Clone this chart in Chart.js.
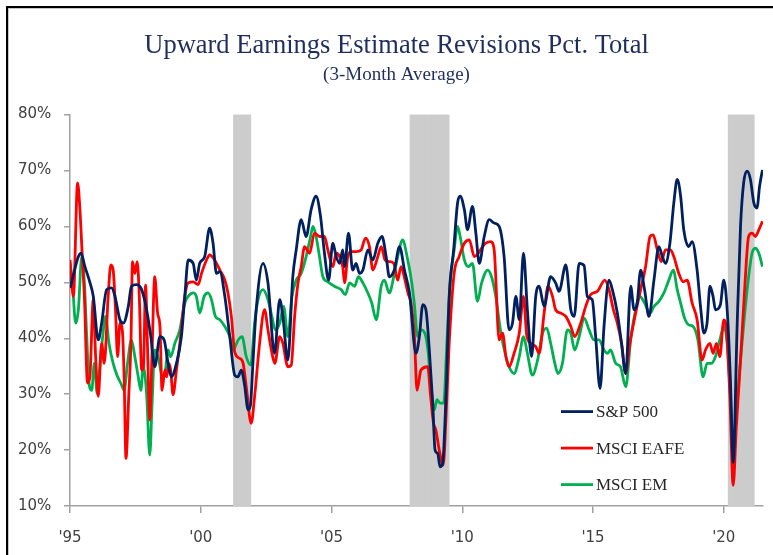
<!DOCTYPE html>
<html>
<head>
<meta charset="utf-8">
<script src="https://cdn.jsdelivr.net/npm/chart.js@4.4.1/dist/chart.umd.min.js"></script>
<style>
html,body{margin:0;padding:0;background:#fff;overflow:hidden;}
#wrap{position:relative;width:773px;height:555px;overflow:hidden;background:#fff;}
#c{position:absolute;left:0;top:0;}
#frame{position:absolute;left:6px;top:6px;width:800px;height:600px;border-top:2px solid #000;border-left:2px solid #000;box-shadow:inset 1px 1px 0 #c8c8c8;pointer-events:none;}
</style>
</head>
<body>
<div id="wrap"><canvas id="c" width="773" height="555"></canvas><div id="frame"></div></div>
<script>
// ---- Data (decimal years, percent) ----
const spYears = [1995.00,1995.42,1995.57,1995.76,1995.89,1996.08,1996.21,1996.40,1996.59,1996.72,1996.91,1997.04,1997.23,1997.35,1997.54,1997.74,1997.93,1998.09,1998.24,1998.44,1998.60,1998.75,1998.88,1999.07,1999.26,1999.39,1999.52,1999.71,1999.83,1999.96,2000.15,2000.34,2000.47,2000.60,2000.73,2000.92,2001.11,2001.30,2001.42,2001.55,2001.68,2001.81,2001.90,2002.00,2002.12,2002.38,2002.57,2002.82,2003.02,2003.14,2003.33,2003.52,2003.65,2003.84,2004.03,2004.22,2004.41,2004.58,2004.73,2004.89,2005.05,2005.18,2005.31,2005.43,2005.50,2005.65,2005.81,2005.94,2006.07,2006.20,2006.39,2006.58,2006.77,2006.93,2007.09,2007.21,2007.40,2007.60,2007.79,2007.98,2008.23,2008.36,2008.49,2008.61,2008.74,2008.87,2008.96,2009.06,2009.15,2009.25,2009.38,2009.50,2009.67,2009.82,2009.92,2010.08,2010.20,2010.39,2010.52,2010.65,2010.84,2011.03,2011.22,2011.41,2011.60,2011.79,2011.92,2012.05,2012.18,2012.34,2012.49,2012.65,2012.81,2012.94,2013.13,2013.38,2013.57,2013.70,2013.96,2014.15,2014.28,2014.47,2014.66,2014.78,2014.97,2015.10,2015.27,2015.42,2015.61,2015.74,2015.93,2016.09,2016.25,2016.44,2016.57,2016.69,2016.82,2016.97,2017.14,2017.33,2017.52,2017.65,2017.77,2017.94,2018.09,2018.22,2018.35,2018.47,2018.66,2018.79,2018.98,2019.11,2019.24,2019.36,2019.47,2019.59,2019.68,2019.87,2020.00,2020.13,2020.25,2020.36,2020.51,2020.64,2020.76,2020.89,2021.02,2021.15,2021.27,2021.37,2021.48];
const spValues = [49.0,55.2,52.8,50.0,47.5,39.7,42.7,48.7,49.0,47.5,43.3,42.7,45.7,49.3,49.6,48.7,45.1,40.3,34.9,40.3,39.7,35.5,33.1,35.5,40.3,47.5,54.0,53.4,50.4,53.4,54.6,59.7,57.0,51.6,51.9,47.5,40.3,33.4,33.1,34.3,31.5,27.2,28.0,36.0,45.1,53.4,49.9,37.3,46.9,43.9,36.1,51.0,55.8,61.2,58.2,63.0,65.4,61.8,55.2,50.4,57.0,54.6,53.4,55.8,52.8,58.8,52.2,53.4,51.6,52.2,55.8,54.0,57.0,58.2,54.6,51.0,52.2,56.4,52.2,48.1,37.3,40.3,46.0,45.1,37.9,28.4,20.0,19.4,17.0,17.6,30.1,47.5,55.8,64.2,65.4,63.0,59.4,63.6,58.8,53.4,58.2,61.2,60.6,60.0,54.6,41.5,42.7,47.5,43.3,55.2,45.1,36.7,47.5,49.3,45.7,51.0,49.9,48.4,53.1,45.1,43.9,53.4,53.0,47.5,46.9,40.3,31.0,42.1,50.4,48.7,44.5,39.1,33.7,49.3,45.1,46.3,52.2,48.7,43.9,50.4,56.4,54.6,53.4,57.0,64.2,68.4,65.4,59.4,56.4,57.3,52.2,45.7,40.9,42.7,49.3,47.5,45.1,46.0,50.4,45.1,33.1,17.8,42.1,60.0,67.8,69.9,68.4,64.2,63.3,67.2,70.1];

const eafeYears = [1995.00,1995.13,1995.29,1995.38,1995.47,1995.55,1995.67,1995.76,1995.89,1995.98,1996.08,1996.21,1996.31,1996.46,1996.56,1996.65,1996.74,1996.82,1996.91,1997.00,1997.07,1997.14,1997.25,1997.33,1997.39,1997.48,1997.57,1997.65,1997.74,1997.81,1997.89,1997.96,1998.05,1998.14,1998.24,1998.35,1998.44,1998.52,1998.63,1998.70,1998.78,1998.85,1998.94,1999.07,1999.20,1999.39,1999.52,1999.71,1999.90,2000.03,2000.22,2000.34,2000.53,2000.73,2000.92,2001.04,2001.17,2001.30,2001.49,2001.62,2001.74,2001.93,2002.06,2002.25,2002.44,2002.57,2002.70,2002.83,2003.02,2003.14,2003.33,2003.46,2003.59,2003.72,2003.84,2003.97,2004.16,2004.35,2004.54,2004.73,2004.86,2005.05,2005.18,2005.31,2005.43,2005.50,2005.62,2005.75,2005.94,2006.13,2006.30,2006.45,2006.58,2006.77,2006.90,2007.05,2007.21,2007.38,2007.53,2007.66,2007.81,2007.93,2008.04,2008.17,2008.27,2008.42,2008.68,2008.78,2008.90,2008.99,2009.12,2009.27,2009.38,2009.50,2009.69,2009.88,2010.08,2010.27,2010.46,2010.61,2010.78,2010.90,2011.09,2011.22,2011.41,2011.54,2011.67,2011.79,2011.98,2012.18,2012.34,2012.47,2012.62,2012.81,2012.94,2013.13,2013.28,2013.45,2013.57,2013.76,2013.96,2014.15,2014.30,2014.53,2014.72,2014.91,2015.17,2015.45,2015.61,2015.78,2015.93,2016.09,2016.25,2016.41,2016.63,2016.82,2017.01,2017.18,2017.30,2017.46,2017.61,2017.77,2017.96,2018.09,2018.28,2018.45,2018.60,2018.79,2018.98,2019.17,2019.30,2019.47,2019.59,2019.72,2019.85,2020.00,2020.10,2020.23,2020.36,2020.48,2020.64,2020.79,2020.95,2021.08,2021.21,2021.34,2021.48];
const eafeValues = [54.0,47.5,67.8,63.0,54.6,47.5,32.0,33.1,46.9,36.7,29.6,39.1,35.5,47.5,53.1,52.2,45.1,36.7,42.7,41.5,33.1,18.5,30.1,39.1,53.7,51.6,53.7,47.5,34.3,35.0,49.5,39.1,25.4,37.9,51.0,44.5,42.1,30.7,34.3,33.1,35.5,34.3,29.9,34.3,39.1,47.5,49.9,50.1,49.6,51.6,54.0,54.9,54.0,52.2,50.4,48.1,43.9,37.5,36.4,35.5,31.3,24.8,29.6,39.1,45.1,41.5,37.9,35.5,40.3,39.1,34.9,35.2,43.9,49.9,52.8,56.4,55.2,58.8,58.2,58.2,55.8,52.8,55.2,54.6,52.8,49.9,54.6,55.5,55.5,55.8,57.9,56.4,52.2,54.6,56.4,54.0,53.7,53.4,50.4,52.8,50.4,48.0,46.3,40.3,30.7,34.3,34.9,30.1,24.8,23.6,20.0,17.3,26.0,39.1,51.6,54.6,57.0,57.6,54.6,55.2,56.4,57.0,57.3,55.8,39.7,40.9,36.7,34.9,37.3,40.9,47.5,40.3,39.1,38.5,37.3,44.5,49.3,47.5,45.1,44.5,43.9,42.1,40.3,42.7,45.7,47.8,48.4,50.4,48.7,45.1,42.7,39.1,33.7,39.1,44.5,48.7,52.8,58.2,58.5,55.8,53.7,55.8,55.8,54.6,51.6,50.1,50.4,46.3,43.3,36.1,37.9,39.1,37.3,39.1,36.7,43.3,41.5,30.1,13.7,24.2,36.1,48.1,58.2,58.8,58.2,59.4,60.9];

const emYears = [1995.00,1995.09,1995.22,1995.32,1995.45,1995.55,1995.64,1995.73,1995.83,1995.93,1996.04,1996.15,1996.25,1996.36,1996.49,1996.65,1996.82,1996.95,1997.07,1997.20,1997.35,1997.48,1997.61,1997.71,1997.80,1997.93,1998.05,1998.14,1998.24,1998.40,1998.52,1998.63,1998.75,1998.85,1999.01,1999.20,1999.39,1999.52,1999.71,1999.83,1999.96,2000.13,2000.28,2000.41,2000.56,2000.73,2000.92,2001.11,2001.24,2001.43,2001.58,2001.74,2001.91,2002.06,2002.19,2002.38,2002.57,2002.72,2002.85,2003.02,2003.17,2003.33,2003.49,2003.65,2003.84,2004.03,2004.20,2004.29,2004.41,2004.54,2004.67,2004.86,2005.11,2005.37,2005.53,2005.69,2005.88,2006.03,2006.20,2006.39,2006.54,2006.71,2006.90,2007.02,2007.21,2007.38,2007.53,2007.72,2007.89,2008.07,2008.17,2008.29,2008.42,2008.57,2008.70,2008.80,2008.93,2009.03,2009.16,2009.29,2009.41,2009.54,2009.69,2009.82,2009.92,2010.08,2010.23,2010.39,2010.58,2010.74,2010.97,2011.12,2011.28,2011.48,2011.67,2011.79,2011.98,2012.18,2012.34,2012.49,2012.68,2012.88,2013.07,2013.23,2013.38,2013.54,2013.66,2013.83,2014.02,2014.15,2014.30,2014.47,2014.66,2014.85,2015.04,2015.23,2015.42,2015.55,2015.67,2015.87,2016.05,2016.25,2016.44,2016.63,2016.79,2016.97,2017.18,2017.33,2017.52,2017.71,2017.90,2018.07,2018.22,2018.35,2018.50,2018.66,2018.83,2019.01,2019.21,2019.36,2019.52,2019.68,2019.85,2020.00,2020.13,2020.25,2020.38,2020.51,2020.64,2020.79,2020.95,2021.08,2021.21,2021.34,2021.48];
const emValues = [53.4,49.9,42.7,45.1,54.6,49.9,40.3,31.9,30.7,35.5,30.1,35.5,40.3,43.9,39.1,35.5,33.1,31.9,30.7,35.5,39.7,36.7,33.1,30.7,34.9,30.0,19.1,28.4,37.9,36.1,33.1,33.7,37.9,36.7,39.1,41.5,46.3,47.5,48.1,47.5,44.5,47.5,48.1,46.9,43.9,43.3,42.1,40.3,37.9,39.7,40.3,36.7,35.2,42.7,46.9,48.7,46.9,43.9,41.5,42.7,45.7,40.3,47.5,50.4,51.6,54.6,58.2,60.0,58.2,54.6,51.0,50.1,49.3,48.7,47.8,49.9,49.3,51.0,49.9,48.1,46.3,43.3,49.3,50.4,48.1,51.0,54.6,57.6,54.6,49.9,46.0,40.3,41.5,40.9,37.3,31.3,27.2,29.0,28.4,28.4,39.1,49.9,55.8,60.0,58.2,54.0,52.8,53.4,46.6,49.9,52.2,51.0,47.5,40.9,36.7,34.9,33.7,36.7,40.3,37.3,33.4,36.1,40.9,41.8,39.1,35.5,33.7,35.5,41.5,40.9,37.9,40.3,43.6,41.5,39.7,39.7,37.9,37.3,37.9,35.5,34.9,31.3,39.7,45.1,47.5,46.3,44.5,45.7,46.6,48.1,50.4,52.2,48.7,46.3,43.6,42.4,42.1,39.7,33.1,35.5,35.5,36.7,39.7,42.1,39.1,30.1,20.6,28.4,36.1,43.9,51.0,55.2,56.1,55.2,52.8];

// Recessions (first and last shaded month)
const recessions = [["2001-04","2001-11"],["2008-01","2009-06"],["2020-03","2021-02"]];

// Axis ticks
const yTicks = [10,20,30,40,50,60,70,80];
const xTickYears = [1995,2000,2005,2010,2015,2020];
const xTickLabels = ["'95","'00","'05","'10","'15","'20"];
const seriesLabels = ["S&P 500","MSCI EAFE","MSCI EM"];

// ---- Build ----
const toXY = (xs, ys) => xs.map((x, i) => ({x: x, y: ys[i]}));
const recessionBars = [];
recessions.forEach(([s, e]) => {
  let [y, m] = s.split('-').map(Number);
  const [ey, em] = e.split('-').map(Number);
  while (y < ey || (y === ey && m <= em)) {
    recessionBars.push({x: y + (m - 0.5) / 12, y: [yTicks[0], yTicks[yTicks.length - 1]]});
    m++; if (m > 12) { m = 1; y++; }
  }
});

const colors = ['#002060', '#ff0000', '#00b050'];
const lineDs = (label, data, color, order) => ({
  type: 'line', label, data, borderColor: color, backgroundColor: color,
  borderWidth: 2.8, pointRadius: 0, cubicInterpolationMode: 'monotone', order
});

const insideLegend = {
  id: 'insideLegend',
  afterDatasetsDraw(chart) {
    const ctx = chart.ctx, a = chart.chartArea;
    const lx = a.left + 491, ly = a.top + 297, dy = 36.5;
    ctx.save();
    ctx.font = '17px "Liberation Serif"';
    ctx.textBaseline = 'middle';
    seriesLabels.forEach((t, i) => {
      const y = ly + i * dy;
      ctx.strokeStyle = colors[i];
      ctx.lineWidth = 2.8;
      ctx.beginPath(); ctx.moveTo(lx, y); ctx.lineTo(lx + 32, y); ctx.stroke();
      ctx.fillStyle = '#262626';
      ctx.fillText(t, lx + 35, y + 1);
    });
    ctx.restore();
  }
};

const axisColor = '#a0a0a0';
const tickFont = {family: '"DejaVu Sans"', size: 15};

new Chart(document.getElementById('c'), {
  type: 'line',
  data: {
    datasets: [
      lineDs(seriesLabels[0], toXY(spYears, spValues), colors[0], 1),
      lineDs(seriesLabels[1], toXY(eafeYears, eafeValues), colors[1], 2),
      lineDs(seriesLabels[2], toXY(emYears, emValues), colors[2], 3),
      {type: 'bar', label: 'Recession', data: recessionBars, backgroundColor: '#cccccc',
       borderWidth: 0, barPercentage: 1, categoryPercentage: 1, order: 10}
    ]
  },
  options: {
    responsive: false, animation: false, devicePixelRatio: 1,
    layout: {padding: {left: 30, right: 10, top: 0, bottom: 7}},
    plugins: {
      legend: {display: false}, tooltip: {enabled: false},
      title: {display: true, text: 'Upward Earnings Estimate Revisions Pct. Total', color: '#1f2d5e',
              font: {family: '"Liberation Serif"', size: 26.5, weight: 'normal', lineHeight: 1.2},
              padding: {top: 30, bottom: 0}},
      subtitle: {display: true, text: '(3-Month Average)', color: '#1f2d5e',
              font: {family: '"Liberation Serif"', size: 19, weight: 'normal', lineHeight: 1.2},
              padding: {top: 2, bottom: 28}}
    },
    scales: {
      x: {
        type: 'linear', min: xTickYears[0], max: 2021.5, offset: false,
        grid: {display: true, drawOnChartArea: false, drawTicks: true, tickLength: 7, color: axisColor, lineWidth: 1.5, offset: false},
        border: {display: true, color: axisColor, width: 1.5},
        ticks: {autoSkip: false, maxRotation: 0, color: '#404040', font: tickFont, padding: 16,
                callback: v => xTickLabels[xTickYears.indexOf(v)]},
        afterBuildTicks: s => { s.ticks = xTickYears.map(v => ({value: v})); },
        afterFit: s => { s.height = 42; }
      },
      y: {
        min: yTicks[0], max: yTicks[yTicks.length - 1],
        grid: {display: true, drawOnChartArea: false, drawTicks: true, tickLength: 6, color: axisColor, lineWidth: 1.5},
        border: {display: true, color: axisColor, width: 1.5},
        ticks: {stepSize: 10, color: '#404040', font: tickFont, mirror: true, crossAlign: 'near', padding: -52,
                callback: v => v + '%'},
        afterBuildTicks: s => { s.ticks = yTicks.map(v => ({value: v})); },
        afterFit: s => { s.width = 40; }
      }
    }
  },
  plugins: [insideLegend]
});
</script>
</body>
</html>
